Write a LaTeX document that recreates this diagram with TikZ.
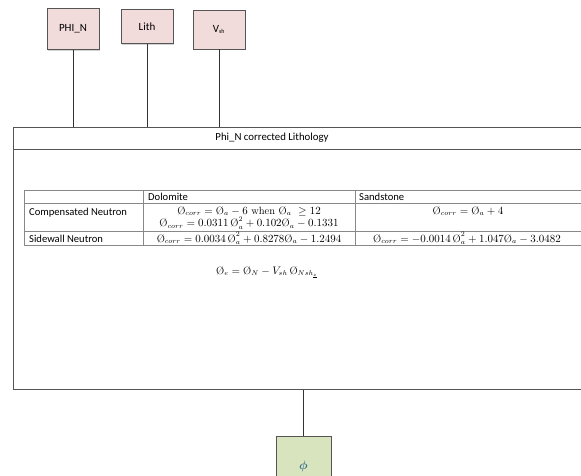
\documentclass[tikz,border=0pt]{standalone}
\usepackage{fontspec}
\usepackage{amsmath,amssymb}
\newfontfamily\calibri{Carlito}
\usetikzlibrary{shadows}
\newcommand\Oo{\hbox{\normalfont\O}}
\definecolor{pinkfill}{HTML}{F2DCDB}
\definecolor{greenfill}{HTML}{D7E4BD}
\definecolor{boxline}{HTML}{555555}
\definecolor{tabline}{HTML}{888888}
\definecolor{phicol}{HTML}{3A7091}
\tikzset{
  inbox/.style={draw=boxline, fill=pinkfill, line width=0.8pt, inner sep=0pt,
    font=\calibri\fontsize{11}{12}\selectfont,
    drop shadow={shadow xshift=1.2pt, shadow yshift=-1.2pt, opacity=0.35}},
  outbox/.style={inbox, fill=greenfill},
  wire/.style={draw=black!80, line width=0.9pt},
  tabrule/.style={draw=tabline, line width=0.7pt},
  lbl/.style={font=\calibri\fontsize{10.6}{12}\selectfont, inner sep=0pt, anchor=base west},
  eq/.style={font=\fontsize{10.5}{12}\selectfont, inner sep=0pt, anchor=base},
}
\begin{document}
\begin{tikzpicture}[x=1pt,y=-1pt]
\useasboundingbox (0,0) rectangle (581,475);
\clip (0,0) rectangle (581,475);
% big box
\node[draw=boxline, line width=0.9pt, minimum width=600pt, minimum height=262pt, inner sep=0pt,
  anchor=north west, fill=white,
  drop shadow={shadow xshift=1pt, shadow yshift=-1pt, opacity=0.3}] (main) at (13,127) {};
\draw[draw=boxline, line width=0.8pt] (13,149) -- (613,149);
\node[font=\calibri\fontsize{10.8}{12}\selectfont, inner sep=0pt] (title) at (272,138) {Phi\_N corrected Lithology};
% input boxes
\node[inbox, minimum width=52pt, minimum height=41pt] (phin) at (73,29) {PHI\_N};
\node[inbox, minimum width=52pt, minimum height=34pt] (lith) at (147,26.5) {Lith};
\node[inbox, minimum width=52pt, minimum height=39pt] (vsh) at (219,29.5) {V\textsubscript{\fontsize{6}{7}\selectfont sh}};
\draw[wire] (phin.south) -- (phin.south |- main.north);
\draw[wire] (lith.south) -- (lith.south |- main.north);
\draw[wire] (vsh.south) -- (vsh.south |- main.north);
% output box
\node[outbox, minimum width=55pt, minimum height=60pt, anchor=north] (phi) at (303.5,436) {\textcolor{phicol}{\fontsize{13}{14}\selectfont$\boldsymbol{\phi}$}};
\draw[wire] (phi.north |- main.south) -- (phi.north);
% table
\draw[tabrule] (24,190) -- (581,190);
\draw[tabrule] (24,203) -- (581,203);
\draw[tabrule] (24,231) -- (581,231);
\draw[tabrule] (24,245) -- (581,245);
\draw[tabrule] (24,190) -- (24,245);
\draw[tabrule] (143,190) -- (143,245);
\draw[tabrule] (355,190) -- (355,245);
\node[lbl] (hdol) at (148,200) {Dolomite};
\node[lbl] (hsand) at (359,200) {Sandstone};
\node[lbl] (rcomp) at (29,215) {Compensated Neutron};
\node[lbl] (rside) at (29,242) {Sidewall Neutron};
\node[eq] (d1) at (249,214) {$\Oo_{corr} = \Oo_a - 6 \text{ when } \Oo_a\ \geq 12$};
\node[eq] (d2) at (249,226.5) {$\Oo_{corr} = 0.0311\,\Oo_a^2 + 0.102\Oo_a - 0.1331$};
\node[eq] (d3) at (249,242) {$\Oo_{corr} = 0.0034\,\Oo_a^2 + 0.8278\Oo_a - 1.2494$};
\node[eq] (s1) at (468,214) {$\Oo_{corr} = \Oo_a + 4$};
\node[eq] (s3) at (467,242) {$\Oo_{corr} = -0.0014\,\Oo_a^2 + 1.047\Oo_a - 3.0482$};
% effective porosity formula
\node[eq] (fe) at (267,274) {$\Oo_e = \Oo_N - V_{sh}\,\Oo_{Nsh_{\underline{z}}}$};
\end{tikzpicture}
\end{document}
